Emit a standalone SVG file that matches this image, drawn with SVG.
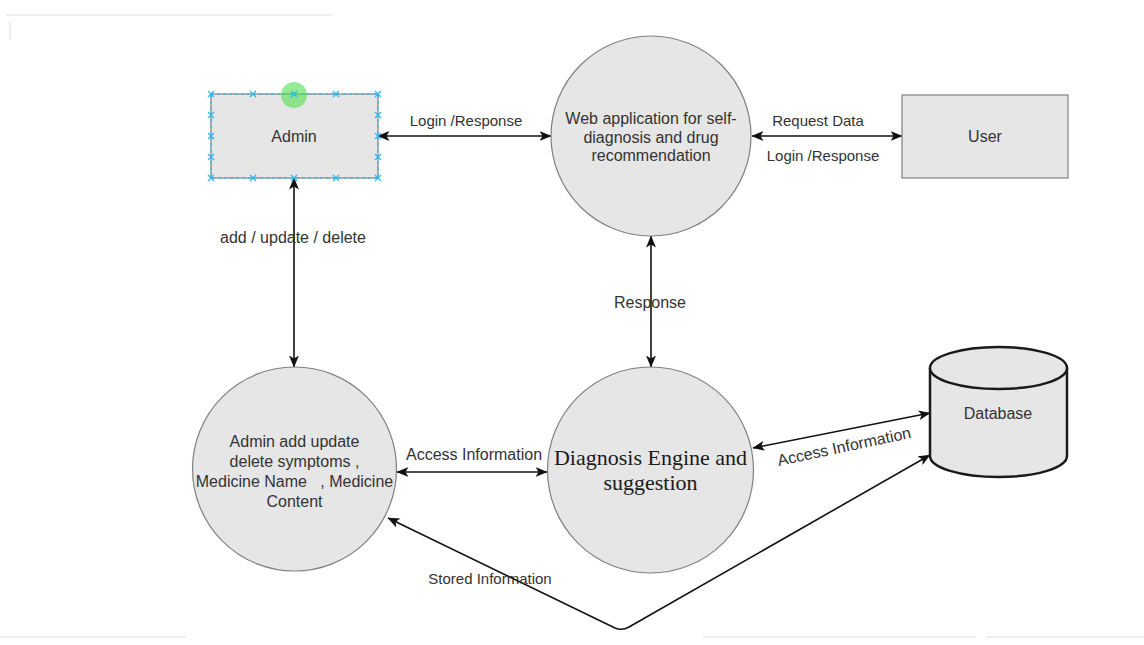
<svg xmlns="http://www.w3.org/2000/svg" width="1144" height="645" viewBox="0 0 1144 645">
  <style>
    .proc { fill: #e6e6e6; stroke: #808080; stroke-width: 1.2; }
    .ext { fill: #e6e6e6; stroke: #808080; stroke-width: 1.2; }
    .store { fill: #e6e6e6; stroke: #1a1a1a; stroke-width: 2.5; }
    .lbl { font-family: "Liberation Sans", Arial, sans-serif; font-size: 16px; fill: #333333; text-anchor: middle; }
    .elbl { font-family: "Liberation Sans", Arial, sans-serif; font-size: 15px; fill: #333333; text-anchor: middle; }
    .serif { font-family: "Liberation Serif", "Times New Roman", serif; font-size: 22px; fill: #1a1a1a; text-anchor: middle; }
    .flow { fill: none; stroke: #111111; stroke-width: 1.6; marker-start: url(#ah); marker-end: url(#ah); }
    .sel { fill: none; stroke: #29b6f2; stroke-width: 1; stroke-dasharray: 3 3; }
    .hdl { stroke: #29b6f2; stroke-width: 1.2; }
    .page { fill: none; stroke: #efefef; stroke-width: 2; }
  </style>
  <defs>
    <marker id="ah" viewBox="0 0 12 10" refX="11.5" refY="5" markerWidth="12" markerHeight="10" orient="auto-start-reverse" markerUnits="userSpaceOnUse">
      <path d="M0,0 L12,5 L0,10 L3,5 z" fill="#111111"/>
    </marker>
    <g id="x">
      <path d="M-3,-3 L3,3 M-3,3 L3,-3" class="hdl"/>
    </g>
  </defs>

  <rect width="1144" height="645" fill="#ffffff"/>

  <!-- faint page edges -->
  <g id="page-edges">
    <path class="page" d="M6,15 H332"/>
    <path class="page" d="M10,22 V40" stroke-width="1.5"/>
    <path class="page" d="M0,637 H186 M703,637 H976 M986,637 H1144"/>
  </g>

  <!-- connectors -->
  <g id="connectors">
    <path class="flow" d="M378,136 H551"/>
    <path class="flow" d="M752,136 H902"/>
    <path class="flow" d="M294,178 V367"/>
    <path class="flow" d="M651,236 V367"/>
    <path class="flow" d="M397,472 H547"/>
    <path class="flow" d="M753,448 L930,413"/>
    <path class="flow" d="M930,455 L629,627 Q622,631 615,628 L388,518"/>

    <text class="elbl" x="466" y="126">Login /Response</text>
    <text class="elbl" x="818" y="126">Request Data</text>
    <text class="elbl" x="823" y="161">Login /Response</text>
    <text class="lbl" x="293" y="243">add / update / delete</text>
    <text class="lbl" x="650" y="308">Response</text>
    <text class="lbl" x="474" y="460">Access Information</text>
    <text class="lbl" x="844" y="452" transform="rotate(-12 844 446)">Access Information</text>
    <text class="elbl" x="490" y="584">Stored Information</text>
  </g>

  <!-- Admin (external entity, selected) -->
  <g id="admin">
    <rect class="ext" x="211" y="94" width="167" height="84"/>
    <rect class="sel" x="211" y="94" width="167" height="84"/>
    <use href="#x" x="211" y="94"/><use href="#x" x="253" y="94"/><use href="#x" x="294" y="94"/><use href="#x" x="336" y="94"/><use href="#x" x="378" y="94"/>
    <use href="#x" x="211" y="178"/><use href="#x" x="253" y="178"/><use href="#x" x="294" y="178"/><use href="#x" x="336" y="178"/><use href="#x" x="378" y="178"/>
    <use href="#x" x="211" y="115"/><use href="#x" x="211" y="136"/><use href="#x" x="211" y="157"/>
    <use href="#x" x="378" y="115"/><use href="#x" x="378" y="136"/><use href="#x" x="378" y="157"/>
    <circle cx="294" cy="95" r="13" fill="#4ee04e" fill-opacity="0.6"/>
    <use href="#x" x="294" y="94"/>
    <text class="lbl" x="294" y="142">Admin</text>
  </g>

  <!-- Web application process -->
  <g id="web-app">
    <circle class="proc" cx="651" cy="136" r="100"/>
    <text class="lbl" x="651" y="124">Web application for self-</text>
    <text class="lbl" x="651" y="142.5">diagnosis and drug</text>
    <text class="lbl" x="651" y="161">recommendation</text>
  </g>

  <!-- User -->
  <g id="user">
    <rect class="ext" x="902" y="95" width="166" height="83"/>
    <text class="lbl" x="985" y="142">User</text>
  </g>

  <!-- Admin maintenance process -->
  <g id="admin-maint">
    <circle class="proc" cx="294.5" cy="469" r="102"/>
    <text class="lbl" x="294.5" y="447">Admin add update</text>
    <text class="lbl" x="294.5" y="467">delete symptoms ,</text>
    <text class="lbl" x="294.5" y="487" xml:space="preserve">Medicine Name   , Medicine</text>
    <text class="lbl" x="294.5" y="507">Content</text>
  </g>

  <!-- Diagnosis engine -->
  <g id="diagnosis">
    <circle class="proc" cx="650.5" cy="470" r="103"/>
    <text class="serif" x="650.5" y="465">Diagnosis Engine and</text>
    <text class="serif" x="650.5" y="490">suggestion</text>
  </g>

  <!-- Database store -->
  <g id="database">
    <path class="store" d="M930,368 A68.5,21 0 0 1 1067,368 V456 A68.5,21 0 0 1 930,456 Z"/>
    <path class="store" d="M930,368 A68.5,21 0 0 0 1067,368" fill="none"/>
    <text class="lbl" x="998" y="419">Database</text>
  </g>
</svg>
